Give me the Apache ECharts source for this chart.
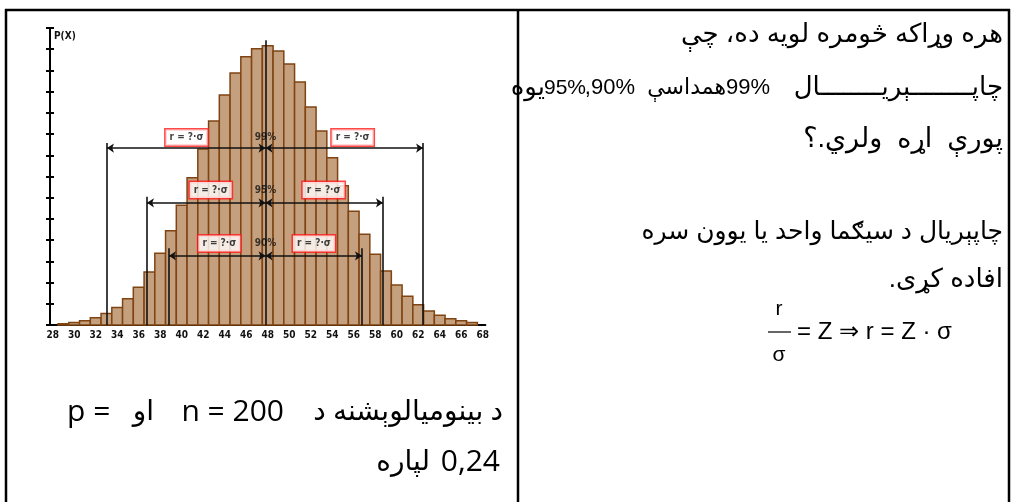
<!DOCTYPE html>
<html><head><meta charset="utf-8">
<script src="https://cdn.jsdelivr.net/npm/echarts@6/dist/echarts.min.js"></script>
<style>html,body{margin:0;padding:0;background:#fff}#c{width:1013px;height:502px}</style>
</head><body><div id="c"></div>
<script>
// ---- data ----
const successes = [29,30,31,32,33,34,35,36,37,38,39,40,41,42,43,44,45,46,47,48,49,50,51,52,53,54,55,56,57,58,59,60,61,62,63,64,65,66,67];
const probabilities = [0.0003,0.0006,0.0010,0.0017,0.0027,0.0041,0.0062,0.0089,0.0125,0.0169,0.0222,0.0282,0.0347,0.0415,0.0481,0.0542,0.0594,0.0632,0.0651,0.0658,0.0646,0.0615,0.0573,0.0514,0.0457,0.0394,0.0328,0.0268,0.0214,0.0167,0.0127,0.0094,0.0068,0.0048,0.0033,0.0023,0.0015,0.0010,0.0006];
const xTickLabels = [28,30,32,34,36,38,40,42,44,46,48,50,52,54,56,58,60,62,64,66,68];
const intervalNames = ['99%','95%','90%'];
const intervalLow = [33.05, 36.77, 38.82];
const intervalHigh = [62.45, 58.72, 56.77];
const intervalLevel = [0.0417, 0.0288, 0.0163];
const intervalEndTop = [0.0429, 0.0302, 0.0181];
const boxLeftX = [40.45, 42.7, 43.5];
const boxRightX = [55.9, 53.2, 52.3];
const labelLevel = [0.0442, 0.0318, 0.0192];
const centerValue = 47.8;
const centerTop = 0.0671;
const radiusLabel = 'r = ?·σ';
const yAxisName = 'P(X)';

// ---- build ----
const chart = echarts.init(document.getElementById('c'));
const barData = successes.map((k, i) => [k, probabilities[i]]);

const markLineData = [[{coord:[centerValue,0],symbol:'none'},{coord:[centerValue,centerTop],symbol:'none'}]];
intervalNames.forEach((n, i) => {
  markLineData.push([{coord:[centerValue,intervalLevel[i]],symbol:'arrow'},{coord:[intervalLow[i],intervalLevel[i]],symbol:'arrow'}]);
  markLineData.push([{coord:[centerValue,intervalLevel[i]],symbol:'arrow'},{coord:[intervalHigh[i],intervalLevel[i]],symbol:'arrow'}]);
  markLineData.push([{coord:[intervalLow[i],0],symbol:'none'},{coord:[intervalLow[i],intervalEndTop[i]],symbol:'none'}]);
  markLineData.push([{coord:[intervalHigh[i],0],symbol:'none'},{coord:[intervalHigh[i],intervalEndTop[i]],symbol:'none'}]);
});

const pctData = intervalNames.map((n, i) => ({name: n, value: [centerValue, labelLevel[i]]}));
const boxData = boxLeftX.map((x, i) => [x, labelLevel[i]]).concat(boxRightX.map((x, i) => [x, labelLevel[i]]));

const arFont = "'Liberation Sans', 'DejaVu Sans', sans-serif";
const leftFont = "'Open Sans', 'DejaVu Sans', sans-serif";
function txt(text, x, y, align, size, family) {
  return {type:'text', x: x, y: y, z: 50, style: {text: text, fill:'#000', fontSize: size, fontFamily: family, align: align, verticalAlign:'middle'}};
}

const graphics = [
  {type:'line', shape:{x1:5, y1:10, x2:1010, y2:10}, style:{stroke:'#000', lineWidth:2.5}},
  {type:'line', shape:{x1:6, y1:9, x2:6, y2:502}, style:{stroke:'#000', lineWidth:2.5}},
  {type:'line', shape:{x1:518, y1:9, x2:518, y2:502}, style:{stroke:'#000', lineWidth:2.5}},
  {type:'line', shape:{x1:1009, y1:9, x2:1009, y2:502}, style:{stroke:'#000', lineWidth:2.5}},
  {type:'text', x:54, y:36, z:50, style:{text:yAxisName, fill:'#111', fontSize:10, fontWeight:'bold', fontFamily:"'DejaVu Sans Condensed', sans-serif", align:'left', verticalAlign:'middle'}},
  // left cell caption
  txt('p =', 67, 412, 'left', 30, leftFont),
  txt('او', 154, 412, 'right', 28, leftFont),
  txt('n = 200', 284, 412, 'right', 30, leftFont),
  txt('د بينوميالوېشنه د', 503, 412, 'right', 28, leftFont),
  txt('0,24', 500, 462, 'right', 30, leftFont),
  txt('لپاره', 430, 462, 'right', 28, leftFont),
  // right cell
  txt('هره وړاکه څومره لويه ده، چې', 1003, 35, 'right', 26, arFont),
  txt('چاپــــــــېريــــــــال', 1003, 88, 'right', 26, arFont),
  txt('99%', 770, 88, 'right', 22, arFont),
  txt('همداسې', 726, 88, 'right', 22, arFont),
  txt(',90%', 635, 88, 'right', 22, arFont),
  txt('95%', 586, 88, 'right', 21, arFont),
  txt('يوه', 545, 88, 'right', 26, arFont),
  txt('پورې  اړه  ولري.؟', 1003, 140, 'right', 27, arFont),
  txt('چاپېريال د سيګما واحد يا يوون سره', 1003, 232, 'right', 25, arFont),
  txt('افاده کړی.\u200F', 1003, 280, 'right', 26, arFont),
  // formula
  txt('r', 779, 309, 'center', 21, arFont),
  {type:'line', shape:{x1:768, y1:332, x2:791, y2:332}, style:{stroke:'#000', lineWidth:1.2}},
  txt('σ', 779, 355, 'center', 21, arFont),
  txt('= Z ⇒ r = Z · σ', 797, 332, 'left', 24, arFont)
];

chart.setOption({
  animation: false,
  backgroundColor: '#fff',
  grid: {left: 50, top: 28, width: 435.4, height: 297, containLabel: false},
  xAxis: {
    type: 'value', min: 27.75, max: 68.25,
    axisLine: {show: true, lineStyle: {color: '#000', width: 2}},
    axisTick: {show: false},
    splitLine: {show: false},
    axisLabel: {customValues: xTickLabels, fontSize: 10, fontWeight: 'bold', color: '#111', margin: 5, fontFamily: "'DejaVu Sans Condensed', sans-serif"}
  },
  yAxis: [
    {type:'value', min:0, max:0.07, interval:0.005, position:'left',
     axisLine:{show:true, lineStyle:{color:'#000', width:2}},
     axisTick:{show:true, length:4, lineStyle:{color:'#000', width:2}},
     axisLabel:{show:false}, splitLine:{show:false}},
    {type:'value', min:0, max:0.07, interval:0.005, position:'left',
     axisLine:{show:false},
     axisTick:{show:true, inside:true, length:4, lineStyle:{color:'#000', width:2}},
     axisLabel:{show:false}, splitLine:{show:false}}
  ],
  graphic: graphics,
  series: [
    {
      type: 'custom', z: 2, data: barData, encode: {x: 0, y: 1},
      renderItem: function (params, api) {
        const k = api.value(0), v = api.value(1);
        const p1 = api.coord([k - 0.5, v]);
        const p2 = api.coord([k + 0.5, 0]);
        return {type: 'rect', shape: {x: p1[0], y: p1[1], width: p2[0] - p1[0], height: p2[1] - p1[1]},
          style: {fill: '#c5a07f', stroke: '#7f4412', lineWidth: 1.5}};
      }
    },
    {
      type: 'scatter', z: 4, data: pctData, symbolSize: 0,
      label: {show: true, position: 'inside', formatter: '{b}', fontSize: 10, fontWeight: 'bold', color: '#111', fontFamily: "'DejaVu Sans Condensed', sans-serif"},
      markLine: {
        silent: true, symbolSize: 7, animation: false,
        label: {show: false},
        lineStyle: {color: '#111', width: 1.6, type: 'solid'},
        emphasis: {disabled: true},
        data: markLineData
      }
    },
    {
      type: 'scatter', z: 6, data: boxData, symbolSize: 0,
      label: {show: true, position: 'inside', formatter: radiusLabel, fontSize: 10, fontWeight: 'bold', color: '#111',
        fontFamily: "'DejaVu Sans Condensed', sans-serif",
        backgroundColor: '#fff', borderColor: '#ff1a1a', borderWidth: 1.5, padding: [2, 4, 2, 4], lineHeight: 12}
    }
  ]
});
</script></body></html>
